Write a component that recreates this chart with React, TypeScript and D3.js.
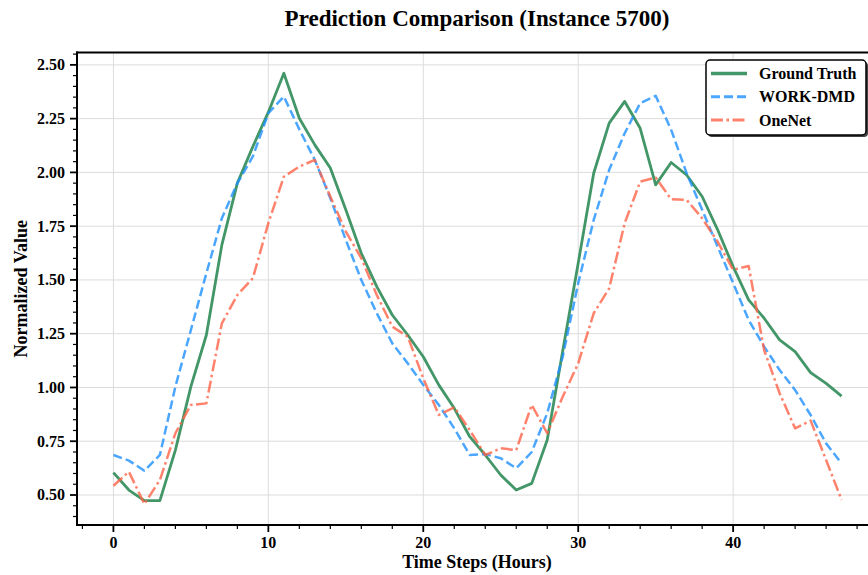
import React from "react";
import * as d3 from "d3";

const steps = d3.range(48);
const groundTruth = [0.604, 0.523, 0.474, 0.474, 0.709, 1.004, 1.244, 1.663, 1.95, 2.12, 2.28, 2.461, 2.252, 2.128, 2.02, 1.826, 1.624, 1.469, 1.337, 1.244, 1.143, 1.012, 0.903, 0.771, 0.686, 0.593, 0.523, 0.554, 0.756, 1.17, 1.578, 1.996, 2.229, 2.33, 2.205, 1.942, 2.046, 1.988, 1.888, 1.733, 1.562, 1.407, 1.322, 1.221, 1.167, 1.069, 1.019, 0.96];
const workDmd = [0.686, 0.66, 0.613, 0.686, 1.004, 1.267, 1.531, 1.787, 1.95, 2.074, 2.275, 2.353, 2.2, 2.058, 1.88, 1.686, 1.5, 1.345, 1.205, 1.112, 1.012, 0.919, 0.81, 0.686, 0.69, 0.671, 0.624, 0.7, 0.88, 1.143, 1.485, 1.779, 2.012, 2.182, 2.322, 2.356, 2.198, 1.996, 1.826, 1.655, 1.485, 1.314, 1.19, 1.081, 0.988, 0.872, 0.74, 0.647];
const oneNet = [0.543, 0.608, 0.458, 0.57, 0.787, 0.919, 0.926, 1.298, 1.43, 1.508, 1.764, 1.98, 2.027, 2.058, 1.888, 1.725, 1.601, 1.43, 1.283, 1.236, 1.043, 0.872, 0.908, 0.802, 0.686, 0.717, 0.709, 0.919, 0.787, 0.957, 1.112, 1.345, 1.461, 1.764, 1.957, 1.976, 1.875, 1.872, 1.787, 1.678, 1.547, 1.565, 1.174, 0.973, 0.81, 0.846, 0.663, 0.477];

const xTicks = [0, 10, 20, 30, 40];
const yTicks = [0.5, 0.75, 1.0, 1.25, 1.5, 1.75, 2.0, 2.25, 2.5];
const seriesNames = ["Ground Truth", "WORK-DMD", "OneNet"];

const W = 868;
const H = 575;
const left = 77;
const right = 878;
const top = 52.5;
const bottom = 525;
const FONT = "'Liberation Serif', 'Times New Roman', serif";

export default function App() {
  const x = d3.scaleLinear().domain([-2.35, 49.35]).range([left, right]);
  const y = d3.scaleLinear().domain([0.3605, 2.5575]).range([bottom, top]);
  const line = d3
    .line<number>()
    .x((_, i) => x(steps[i]))
    .y((d) => y(d));

  const xMinor = d3.range(-2, 50, 2).filter((v) => v % 10 !== 0);
  const yMinor = d3.range(0.4, 2.56, 0.05).filter(
    (v) => Math.abs(Math.round(v / 0.25) * 0.25 - v) > 1e-6
  );

  const series = [
    { name: seriesNames[0], data: groundTruth, color: "#2E8B57", width: 2.8, dash: "none", opacity: 0.9 },
    { name: seriesNames[1], data: workDmd, color: "#1E90FF", width: 2.5, dash: "9,4", opacity: 0.8 },
    { name: seriesNames[2], data: oneNet, color: "#FF6347", width: 2.5, dash: "12,3.5,2.5,3.5", opacity: 0.8 },
  ];

  const lgX = 706;
  const lgY = 60;
  const lgW = 160;
  const lgH = 75;

  return (
    <svg width={W} height={H} style={{ display: "block", position: "absolute", left: 0, top: 0 }} fontFamily={FONT}>
      <rect x={0} y={0} width={W} height={H} fill="#fff" />
      <defs>
        <clipPath id="plot">
          <rect x={left} y={top} width={right - left} height={bottom - top} />
        </clipPath>
      </defs>
      {/* grid */}
      <g stroke="#dcdcdc" strokeWidth={1}>
        {xTicks.map((t) => (
          <line key={"gx" + t} x1={x(t)} x2={x(t)} y1={top} y2={bottom} />
        ))}
        {yTicks.map((t) => (
          <line key={"gy" + t} x1={left} x2={right} y1={y(t)} y2={y(t)} />
        ))}
      </g>
      {/* lines */}
      <g clipPath="url(#plot)">
        {series.map((s) => (
          <path
            key={s.name}
            d={line(s.data) || ""}
            fill="none"
            stroke={s.color}
            strokeWidth={s.width}
            strokeDasharray={s.dash}
            strokeOpacity={s.opacity}
            strokeLinejoin="round"
          />
        ))}
      </g>
      {/* spines */}
      <g stroke="#000" strokeWidth={2} fill="none">
        <line x1={left} x2={left} y1={top - 1} y2={bottom + 1} />
        <line x1={left - 1} x2={right} y1={bottom} y2={bottom} />
        <line x1={left - 1} x2={right} y1={top} y2={top} />
      </g>
      {/* ticks */}
      <g stroke="#000">
        {xTicks.map((t) => (
          <line key={"xt" + t} x1={x(t)} x2={x(t)} y1={bottom} y2={bottom + 7} strokeWidth={1.8} />
        ))}
        {xMinor.map((t) => (
          <line key={"xm" + t} x1={x(t)} x2={x(t)} y1={bottom} y2={bottom + 4} strokeWidth={1.2} />
        ))}
        {yTicks.map((t) => (
          <line key={"yt" + t} x1={left - 7} x2={left} y1={y(t)} y2={y(t)} strokeWidth={1.8} />
        ))}
        {yMinor.map((t) => (
          <line key={"ym" + t.toFixed(2)} x1={left - 4} x2={left} y1={y(t)} y2={y(t)} strokeWidth={1.2} />
        ))}
      </g>
      <g fontSize={16} fontWeight="bold" fill="#000">
        {xTicks.map((t) => (
          <text key={"xl" + t} x={x(t)} y={bottom + 23} textAnchor="middle">
            {t}
          </text>
        ))}
        {yTicks.map((t) => (
          <text key={"yl" + t} x={left - 12} y={y(t) + 5.5} textAnchor="end">
            {t.toFixed(2)}
          </text>
        ))}
      </g>
      <text x={477} y={568} textAnchor="middle" fontSize={18} fontWeight="bold">
        Time Steps (Hours)
      </text>
      <text
        transform={`translate(27, ${(top + bottom) / 2}) rotate(-90)`}
        textAnchor="middle"
        fontSize={18}
        fontWeight="bold"
      >
        Normalized Value
      </text>
      <text x={477} y={26} textAnchor="middle" fontSize={23} fontWeight="bold">
        Prediction Comparison (Instance 5700)
      </text>
      {/* legend */}
      <rect x={lgX + 2} y={lgY + 2} width={lgW} height={lgH} rx={4} fill="#444" />
      <rect x={lgX} y={lgY} width={lgW} height={lgH} rx={4} fill="#fff" stroke="#000" strokeWidth={1.5} />
      {series.map((s, i) => {
        const cy = lgY + 13.5 + i * 23.3;
        return (
          <g key={"lg" + s.name}>
            <line
              x1={lgX + 5}
              x2={lgX + 41}
              y1={cy}
              y2={cy}
              stroke={s.color}
              strokeOpacity={s.opacity}
              strokeWidth={s.width + 0.5}
              strokeDasharray={s.dash}
            />
            <text x={lgX + 53} y={cy + 5.5} fontSize={16} fontWeight="bold">
              {s.name}
            </text>
          </g>
        );
      })}
    </svg>
  );
}
